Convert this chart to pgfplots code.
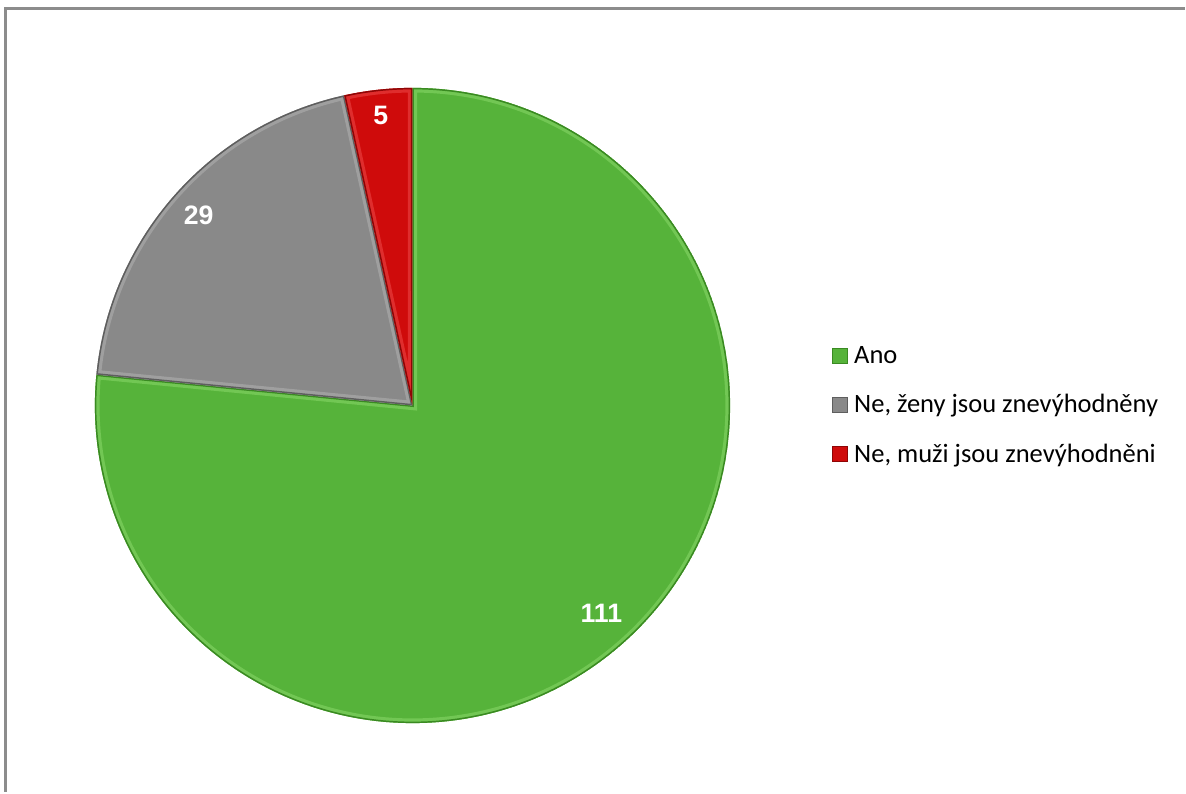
\documentclass[border=0pt]{standalone}
\usepackage{pgfplots}
\pgfplotsset{compat=1.18}
\usepackage{pgfplotstable}
\usetikzlibrary{calc}
\usepackage{fontspec}
\setmainfont{Carlito}
\newfontfamily\arialfont{Liberation Sans}
\definecolor{ano}{HTML}{56B33A}
\definecolor{anod}{HTML}{3A8A22}
\definecolor{anol}{HTML}{8FDB6E}
\definecolor{zen}{HTML}{898989}
\definecolor{zend}{HTML}{5E5E5E}
\definecolor{zenl}{HTML}{B5B5B5}
\definecolor{muz}{HTML}{CF0B0B}
\definecolor{muzd}{HTML}{8E0505}
\definecolor{muzl}{HTML}{F05050}
\definecolor{frame}{HTML}{8C8C8C}
\pgfplotstableread{
label value
Ano 111
Zeny 29
Muzi 5
}\datatable
\pgfplotstablegetelem{0}{value}\of\datatable \let\va\pgfplotsretval
\pgfplotstablegetelem{1}{value}\of\datatable \let\vb\pgfplotsretval
\pgfplotstablegetelem{2}{value}\of\datatable \let\vc\pgfplotsretval
\pgfmathsetmacro\tot{\va+\vb+\vc}
\pgfmathsetmacro\aA{90}
\pgfmathsetmacro\aB{\aA-360*(\va/\tot)}
\pgfmathsetmacro\aC{\aB-360*(\vb/\tot)}
\pgfmathsetmacro\aD{\aC-360*(\vc/\tot)}
\pgfmathsetmacro\mA{(\aA+\aB)/2}
\pgfmathsetmacro\mB{(\aB+\aC)/2}
\pgfmathsetmacro\mC{(\aC+\aD)/2}
\def\R{238.5bp}
\newcommand\pieslice[5]{% start, end, fill, dark, light
  \begin{scope}
    \clip (axis cs:413,387) -- ++(#1:\R) arc[start angle=#1, end angle=#2, radius=\R] -- cycle;
    \fill[#3] (axis cs:413,387) -- ++(#1:\R) arc[start angle=#1, end angle=#2, radius=\R] -- cycle;
    \draw[#5, opacity=0.5, line width=7bp] (axis cs:413,387) -- ++(#1:\R) arc[start angle=#1, end angle=#2, radius=\R] -- cycle;
    \draw[#4, line width=2.2bp] (axis cs:413,387) -- ++(#1:\R) arc[start angle=#1, end angle=#2, radius=\R] -- cycle;
  \end{scope}}
\begin{document}
\begin{tikzpicture}
\begin{axis}[scale only axis, width=889.5bp, height=594.75bp,
  xmin=0, xmax=1186, ymin=0, ymax=793, hide axis, clip=false]
% full picture area
\path (axis cs:0,0) rectangle (axis cs:1186,793);
% frame (left and top edges)
\draw[frame, line width=2.25bp] (axis cs:6,0) -- (axis cs:6,784) -- (axis cs:1186,784);
% slices
\pieslice{\aA}{\aB}{ano}{anod}{anol}
\pieslice{\aB}{\aC}{zen}{zend}{zenl}
\pieslice{\aC}{\aD}{muz}{muzd}{muzl}
% data labels
\node[font=\arialfont\bfseries\fontsize{20bp}{23bp}\selectfont, text=white, inner sep=0pt]
  at ($(axis cs:413,387)+(\mA:0.885*\R)$) {\va};
\node[font=\arialfont\bfseries\fontsize{20bp}{23bp}\selectfont, text=white, inner sep=0pt]
  at ($(axis cs:413,387)+(\mB:0.9*\R)$) {\vb};
\node[font=\arialfont\bfseries\fontsize{20bp}{23bp}\selectfont, text=white, inner sep=0pt]
  at ($(axis cs:413,387)+(\mC:0.92*\R)$) {\vc};
% legend
\fill[ano] (axis cs:833,444) rectangle (axis cs:848,429);
\draw[anod, line width=0.6bp] (axis cs:833,444) rectangle (axis cs:848,429);
\fill[zen] (axis cs:833,395) rectangle (axis cs:848,380);
\draw[zend, line width=0.6bp] (axis cs:833,395) rectangle (axis cs:848,380);
\fill[muz] (axis cs:833,346) rectangle (axis cs:848,331);
\draw[muzd, line width=0.6bp] (axis cs:833,346) rectangle (axis cs:848,331);
\node[anchor=base west, inner sep=0pt, font=\fontsize{19.9bp}{22bp}\selectfont] at (axis cs:855,429) {Ano};
\node[anchor=base west, inner sep=0pt, font=\fontsize{19.9bp}{22bp}\selectfont] at (axis cs:855,379.5) {Ne, ženy jsou znevýhodněny};
\node[anchor=base west, inner sep=0pt, font=\fontsize{19.9bp}{22bp}\selectfont] at (axis cs:855,330) {Ne, muži jsou znevýhodněni};
\end{axis}
\end{tikzpicture}
\end{document}
